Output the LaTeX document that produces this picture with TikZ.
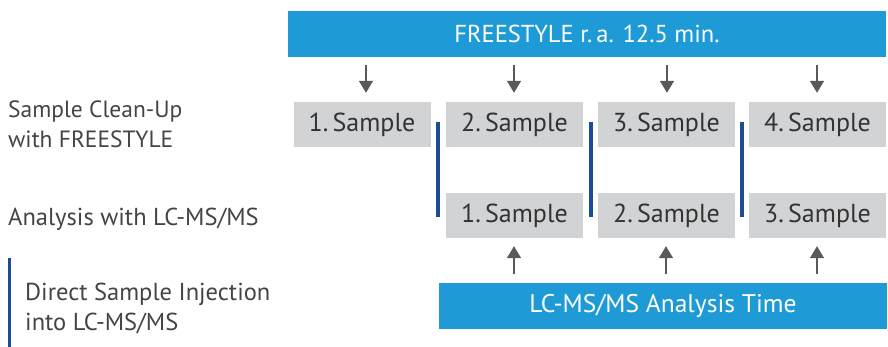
\documentclass[tikz,border=0pt]{standalone}
\usepackage{fontspec}
\setmainfont{PT Sans}
\usetikzlibrary{arrows.meta}
\definecolor{barblue}{HTML}{1E9AD6}
\definecolor{boxgray}{HTML}{D2D3D5}
\definecolor{linkblue}{HTML}{1D4B9C}
\definecolor{arrgray}{HTML}{58595B}
\definecolor{txtgray}{HTML}{333333}
\definecolor{lbltxt}{HTML}{444444}
\tikzset{
  bar/.style={fill=barblue, text=white, minimum height=46pt, inner sep=0pt, font=\fontsize{24.5}{28}\selectfont},
  samplebox/.style={fill=boxgray, text=txtgray, minimum width=137pt, minimum height=45pt, inner sep=0pt, font=\fontsize{26}{30}\selectfont},
  arr/.style={draw=arrgray, line width=1.5pt, -{Triangle[width=14pt,length=12pt]}},
  sep/.style={draw=linkblue, line width=3.6pt},
  lbl/.style={text=lbltxt, anchor=base west, inner sep=0pt, font=\fontsize{23.5}{31}\selectfont, align=left}
}
\begin{document}
\begin{tikzpicture}[x=1pt,y=-1pt]
\useasboundingbox (0,0) rectangle (888,347);
% bars
\node[bar, minimum width=598pt] (top) at (587,34) {FREESTYLE r.\,a. 12.5 min.};
\node[bar, minimum width=448pt, font=\fontsize{25.5}{28}\selectfont] (bot) at (663,306) {LC-MS/MS Analysis Time};
% row 1
\node[samplebox] (a1) at (362,124.5) {1.\,Sample};
\node[samplebox] (a2) at (514.5,124.5) {2.\,Sample};
\node[samplebox] (a3) at (666.5,124.5) {3.\,Sample};
\node[samplebox] (a4) at (817.5,124.5) {4.\,Sample};
% row 2
\node[samplebox] (b1) at (514.5,215.5) {1.\,Sample};
\node[samplebox] (b2) at (666.5,215.5) {2.\,Sample};
\node[samplebox] (b3) at (817.5,215.5) {3.\,Sample};
% top arrows
\foreach \n/\x in {a1/366,a2/514,a3/667,a4/817}{
  \draw[arr, shorten <=8pt, shorten >=9pt] (top.south -| \x,0) -- (\n.north -| \x,0);
}
% bottom arrows
\foreach \n/\x in {b1/514,b2/666,b3/817}{
  \draw[arr, shorten <=9pt, shorten >=8pt] (bot.north -| \x,0) -- (\n.south -| \x,0);
}
% separators
\draw[sep] (438,122) -- (438,217);
\draw[sep] (591,122) -- (591,217);
\draw[sep] (742,122) -- (742,217);
% left labels
\node[lbl] (l1) at (8,118) {Sample Clean-Up};
\node[lbl] (l2) at (8,148) {with FREESTYLE};
\node[lbl, font=\fontsize{24.5}{31}\selectfont] (l3) at (8,226) {Analysis with LC-MS/MS};
\node[lbl, font=\fontsize{24.5}{31}\selectfont] (l4) at (25,300) {Direct Sample Injection};
\node[lbl, font=\fontsize{24.5}{31}\selectfont] (l5) at (25,330) {into LC-MS/MS};
\draw[sep] (9.5,258) -- (9.5,347);
\end{tikzpicture}
\end{document}
